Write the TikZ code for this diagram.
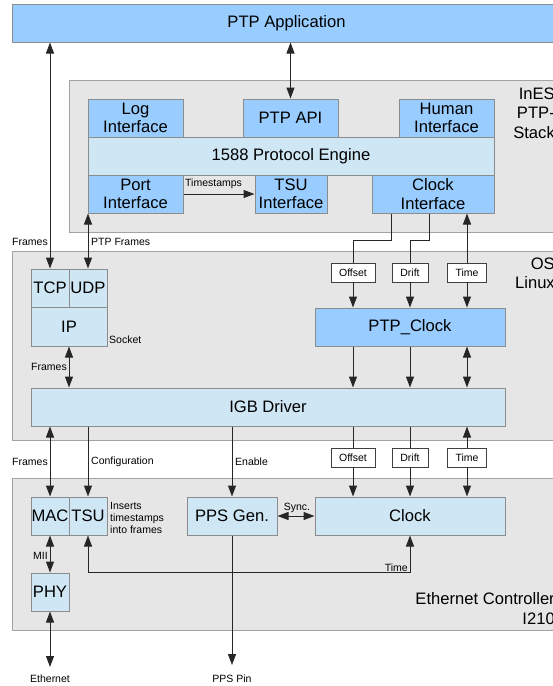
\documentclass[tikz,border=0pt]{standalone}
\usepackage{fontspec}
\setmainfont{Liberation Sans}
\usetikzlibrary{arrows.meta,calc}

\definecolor{appblue}{HTML}{99CCFF}
\definecolor{lightblue}{HTML}{CFE6F4}
\definecolor{groupgray}{HTML}{E6E6E6}
\definecolor{groupedge}{HTML}{A3A3A3}
\definecolor{boxedge}{HTML}{8C8C8C}
\definecolor{wirecol}{HTML}{262626}

\tikzset{
  group/.style={draw=groupedge, fill=groupgray, line width=1pt, inner sep=0pt},
  blk/.style={draw=boxedge, line width=1pt, inner sep=0pt, align=center,
    font=\fontsize{16.6}{18.5}\selectfont},
  darkblk/.style={blk, fill=appblue},
  lightblk/.style={blk, fill=lightblue},
  tagbox/.style={draw=black!75, fill=white, line width=0.8pt, inner sep=0pt,
    minimum height=19pt, font=\fontsize{10.5}{12}\selectfont},
  lbl/.style={inner sep=0pt, font=\fontsize{10.5}{12}\selectfont},
  layertitle/.style={inner sep=0pt, align=right, anchor=east,
    font=\fontsize{16.6}{19.3}\selectfont},
  wire/.style={draw=wirecol, line width=1pt},
  tip/.style={wire, -{Triangle[length=11pt,width=8pt]}},
  biptip/.style={wire, {Triangle[length=11pt,width=8pt]}-{Triangle[length=11pt,width=8pt]}},
}

\begin{document}
\begin{tikzpicture}[x=1pt, y=-1pt]
\useasboundingbox (0,0) rectangle (553,686);
\clip (0,0) rectangle (553,686);

% ---------- layers ----------
\node[darkblk, minimum width=549pt, minimum height=38pt] (app) at (286.5,23) {PTP Application};

\node[group, minimum width=493pt, minimum height=152pt] (ines) at (315.5,156) {};
\node[group, minimum width=550pt, minimum height=189pt] (os) at (287,345.5) {};
\node[group, minimum width=550pt, minimum height=152pt] (eth) at (287,554) {};

\node[layertitle] (inesT) at (555,113) {InES\\PTP-\\Stack};
\node[layertitle] (osT) at (555,273.5) {OS\\Linux};
\node[layertitle] (ethT) at (555,608.5) {Ethernet Controller\\I210};

% ---------- PTP stack ----------
\node[lightblk, minimum width=406pt, minimum height=38pt] (engine) at (291,156) {1588 Protocol Engine};
\node[darkblk, minimum width=95pt, minimum height=38pt] (log) at (135.5,118) {Log\\Interface};
\node[darkblk, minimum width=95pt, minimum height=38pt] (api) at (290.5,118) {PTP API};
\node[darkblk, minimum width=95pt, minimum height=38pt] (human) at (446.5,118) {Human\\Interface};
\node[darkblk, minimum width=95pt, minimum height=38pt] (port) at (135.5,194) {Port\\Interface};
\node[darkblk, minimum width=72pt, minimum height=38pt] (tsui) at (291,194) {TSU\\Interface};
\node[darkblk, minimum width=122pt, minimum height=38pt] (clki) at (433,194) {Clock\\Interface};

% ---------- operating system ----------
\node[lightblk, minimum width=38pt, minimum height=38pt] (tcp) at (50,288) {TCP};
\node[lightblk, minimum width=38pt, minimum height=38pt] (udp) at (88,288) {UDP};
\node[lightblk, minimum width=76pt, minimum height=39pt] (ip) at (69,326.5) {IP};
\node[darkblk, minimum width=190pt, minimum height=38pt] (ptpclock) at (410,327) {PTP\_Clock};
\node[lightblk, minimum width=474pt, minimum height=38pt] (igb) at (268,407) {IGB Driver};

\node[tagbox, minimum width=44pt] (off1) at (353,272.5) {Offset};
\node[tagbox, minimum width=36pt] (drift1) at (410,272.5) {Drift};
\node[tagbox, minimum width=39pt] (time1) at (467,272.5) {Time};
\node[tagbox, minimum width=44pt] (off2) at (353,457.5) {Offset};
\node[tagbox, minimum width=36pt] (drift2) at (410,457.5) {Drift};
\node[tagbox, minimum width=39pt] (time2) at (467,457.5) {Time};

% ---------- ethernet controller ----------
\node[lightblk, minimum width=38pt, minimum height=38pt] (mac) at (50,516) {MAC};
\node[lightblk, minimum width=38pt, minimum height=38pt] (tsu) at (88,516) {TSU};
\node[lightblk, minimum width=38pt, minimum height=38pt] (phy) at (50,592) {PHY};
\node[lightblk, minimum width=90pt, minimum height=38pt] (pps) at (232,516) {PPS Gen.};
\node[lightblk, minimum width=190pt, minimum height=38pt] (clock) at (410,516) {Clock};

\coordinate (ethport) at (50,667);
\coordinate (ppspin) at (232,665);

% ---------- connectors ----------
\draw[biptip] (tcp.north) -- (tcp.north |- app.south);
\draw[biptip] (udp.north) -- (udp.north |- port.south);
\draw[biptip] (api.north) -- (api.north |- app.south);
\draw[tip] (port.east) -- (tsui.west);

\draw[wire] ([xshift=20pt]clki.south west) -- ++(0,27) -| (off1.north);
\draw[wire] ([xshift=58pt]clki.south west) -- ++(0,27) -| (drift1.north);
\draw[tip] (time1.north) -- (time1.north |- clki.south);

\draw[tip] (off1.south) -- (off1.south |- ptpclock.north);
\draw[tip] (drift1.south) -- (drift1.south |- ptpclock.north);
\draw[tip] (time1.south) -- (time1.south |- ptpclock.north);

\draw[tip] (off1.south |- ptpclock.south) -- (off1.south |- igb.north);
\draw[tip] (drift1.south |- ptpclock.south) -- (drift1.south |- igb.north);
\draw[biptip] (time1.south |- ptpclock.south) -- (time1.south |- igb.north);

\draw[biptip] (ip.south) -- (ip.south |- igb.north);

\draw[wire] (off2.north |- igb.south) -- (off2.north);
\draw[wire] (drift2.north |- igb.south) -- (drift2.north);
\draw[tip] (time2.north) -- (time2.north |- igb.south);
\draw[tip] (off2.south) -- (off2.south |- clock.north);
\draw[tip] (drift2.south) -- (drift2.south |- clock.north);
\draw[tip] (time2.south) -- (time2.south |- clock.north);

\draw[biptip] (mac.north) -- (mac.north |- igb.south);
\draw[tip] (tsu.north |- igb.south) -- (tsu.north);
\draw[tip] (pps.north |- igb.south) -- (pps.north);

\draw[biptip] (pps.east) -- (clock.west);
\draw[biptip] (clock.south) -- ++(0,37) -| (tsu.south);
\draw[biptip] (mac.south) -- (phy.north);
\draw[biptip] (phy.south) -- (ethport);
\draw[tip] (pps.south) -- (ppspin);

% ---------- labels ----------
\node[lbl, anchor=east] (lFramesTop) at (48,242) {Frames};
\node[lbl, anchor=west] (lPtpFrames) at (91,242) {PTP Frames};
\node[lbl, anchor=west] (lTimestamps) at (185,184) {Timestamps};
\node[lbl, anchor=west] (lSocket) at (109,340) {Socket};
\node[lbl, anchor=east] (lFramesMid) at (67,367) {Frames};
\node[lbl, anchor=east] (lFramesBot) at (48,462) {Frames};
\node[lbl, anchor=west] (lConfig) at (91,462) {Configuration};
\node[lbl, anchor=west] (lEnable) at (235,462) {Enable};
\node[lbl, anchor=west, align=left] (lInserts) at (110,518) {Inserts\\timestamps\\into frames};
\node[lbl, anchor=south] (lSync) at (297,513) {Sync.};
\node[lbl, anchor=east] (lTime) at (408,568) {Time};
\node[lbl, anchor=east] (lMII) at (48,556) {MII};
\node[lbl] (lEthernet) at (50,679) {Ethernet};
\node[lbl] (lPpsPin) at (232,679) {PPS Pin};
\end{tikzpicture}
\end{document}
